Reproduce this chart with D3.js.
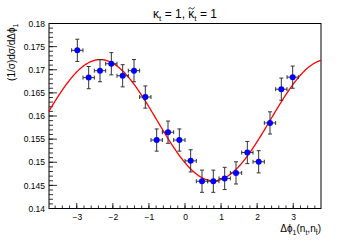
<!DOCTYPE html>
<html>
<head>
<meta charset="utf-8">
<script src="https://cdn.jsdelivr.net/npm/d3@7"></script>
<style>
  body { margin: 0; background: #fff; }
  svg { display: block; font-family: "Liberation Sans", Arial, sans-serif; }
</style>
</head>
<body>
<div id="chart"></div>
<script>
// bin centres of dphi, measured values and errors
var xValues = [-2.985, -2.670, -2.356, -2.042, -1.728, -1.414, -1.100, -0.785, -0.471, -0.157,
                0.157,  0.471,  0.785,  1.100,  1.414,  1.728,  2.042,  2.356,  2.670,  2.985];
var yValues = [0.1742, 0.1683, 0.1698, 0.1713, 0.1687, 0.1698, 0.1641, 0.1548, 0.1565, 0.1548,
               0.1503, 0.1459, 0.1459, 0.1465, 0.1477, 0.1521, 0.1501, 0.1585, 0.1658, 0.1684];
var yErrors = [0.0024, 0.0024, 0.0024, 0.0024, 0.0024, 0.0024, 0.0024, 0.0024, 0.0024, 0.0024,
               0.0024, 0.0024, 0.0024, 0.0024, 0.0024, 0.0024, 0.0024, 0.0024, 0.0024, 0.0024];
var xHalfWidth = 0.157;

// fit: p0 + p1*cos(x + p2)
var fitParams = [0.1591, 0.0131, 2.35];

var xTicks = [-3, -2, -1, 0, 1, 2, 3];
var yTicks = [0.14, 0.145, 0.15, 0.155, 0.16, 0.165, 0.17, 0.175, 0.18];

var margin = { top: 23.5, right: 34, bottom: 31.5, left: 49 };
var W = 355, H = 240;
var width  = W - margin.left - margin.right;
var height = H - margin.top - margin.bottom;

var svg = d3.select("#chart").append("svg")
    .attr("width", W)
    .attr("height", H);

var g = svg.append("g")
    .attr("transform", "translate(" + margin.left + "," + margin.top + ")");

var xScale = d3.scaleLinear().domain([-1.2 * Math.PI, 1.2 * Math.PI]).range([0, width]);
var yScale = d3.scaleLinear().domain([0.14, 0.18]).range([height, 0]);

// ticks inside the frame, ROOT style
var xMinor = d3.range(-3.6, 3.61, 0.2).map(function(d) { return Math.round(d * 10) / 10; });
var yMinor = d3.range(0.14, 0.18001, 0.001);

g.selectAll(".xminor").data(xMinor).enter().append("line")
    .attr("x1", d => xScale(d)).attr("x2", d => xScale(d))
    .attr("y1", height).attr("y2", height - 3)
    .attr("stroke", "#000").attr("stroke-width", 0.8);
g.selectAll(".xmajor").data(xTicks).enter().append("line")
    .attr("x1", d => xScale(d)).attr("x2", d => xScale(d))
    .attr("y1", height).attr("y2", height - 5.5)
    .attr("stroke", "#000").attr("stroke-width", 0.8);
g.selectAll(".yminor").data(yMinor).enter().append("line")
    .attr("x1", 0).attr("x2", 4)
    .attr("y1", d => yScale(d)).attr("y2", d => yScale(d))
    .attr("stroke", "#000").attr("stroke-width", 0.8);
g.selectAll(".ymajor").data(yTicks).enter().append("line")
    .attr("x1", 0).attr("x2", 8)
    .attr("y1", d => yScale(d)).attr("y2", d => yScale(d))
    .attr("stroke", "#000").attr("stroke-width", 0.8);

// tick labels
var xAxis = d3.axisBottom(xScale).tickValues(xTicks).tickSize(0).tickPadding(5)
    .tickFormat(d => d < 0 ? "\u2212" + Math.abs(d) : d);
g.append("g")
    .attr("transform", "translate(0," + height + ")")
    .call(xAxis)
    .call(s => s.select(".domain").remove())
    .selectAll("text").attr("font-size", "8.5px").attr("fill", "#000")
    .attr("font-family", "Liberation Sans, Arial, sans-serif");

var yAxis = d3.axisLeft(yScale).tickValues(yTicks).tickSize(0).tickPadding(4)
    .tickFormat(d3.format("~g"));
g.append("g")
    .call(yAxis)
    .call(s => s.select(".domain").remove())
    .selectAll("text").attr("font-size", "8.5px").attr("fill", "#000")
    .attr("font-family", "Liberation Sans, Arial, sans-serif");

// frame
g.append("rect")
    .attr("width", width).attr("height", height)
    .attr("fill", "none").attr("stroke", "#000").attr("stroke-width", 1);

// fit curve
var curveX = d3.range(-1.2 * Math.PI, 1.2 * Math.PI + 0.001, 0.02);
var line = d3.line()
    .x(d => xScale(d))
    .y(d => yScale(fitParams[0] + fitParams[1] * Math.cos(d + fitParams[2])));
g.append("path")
    .datum(curveX)
    .attr("d", line)
    .attr("fill", "none")
    .attr("stroke", "#ff0000")
    .attr("stroke-width", 1.3);

// error bars
var pts = xValues.map(function(x, i) { return { x: x, y: yValues[i], e: yErrors[i] }; });
var eb = g.selectAll(".err").data(pts).enter().append("g").attr("class", "err")
    .attr("stroke", "#333").attr("stroke-width", 1);
eb.append("line")
    .attr("x1", d => xScale(d.x)).attr("x2", d => xScale(d.x))
    .attr("y1", d => yScale(d.y - d.e)).attr("y2", d => yScale(d.y + d.e));
eb.append("line")
    .attr("x1", d => xScale(d.x - xHalfWidth)).attr("x2", d => xScale(d.x + xHalfWidth))
    .attr("y1", d => yScale(d.y)).attr("y2", d => yScale(d.y));
// end caps
eb.append("line")
    .attr("x1", d => xScale(d.x) - 2).attr("x2", d => xScale(d.x) + 2)
    .attr("y1", d => yScale(d.y + d.e)).attr("y2", d => yScale(d.y + d.e));
eb.append("line")
    .attr("x1", d => xScale(d.x) - 2).attr("x2", d => xScale(d.x) + 2)
    .attr("y1", d => yScale(d.y - d.e)).attr("y2", d => yScale(d.y - d.e));
eb.append("line")
    .attr("x1", d => xScale(d.x - xHalfWidth)).attr("x2", d => xScale(d.x - xHalfWidth))
    .attr("y1", d => yScale(d.y) - 2).attr("y2", d => yScale(d.y) + 2);
eb.append("line")
    .attr("x1", d => xScale(d.x + xHalfWidth)).attr("x2", d => xScale(d.x + xHalfWidth))
    .attr("y1", d => yScale(d.y) - 2).attr("y2", d => yScale(d.y) + 2);

// markers
g.selectAll(".pt").data(pts).enter().append("circle")
    .attr("cx", d => xScale(d.x))
    .attr("cy", d => yScale(d.y))
    .attr("r", 3)
    .attr("fill", "#0000ff");

// title (tilde drawn as a small path over the second kappa)
var title = svg.append("text")
    .attr("x", 185).attr("y", 18)
    .attr("text-anchor", "middle")
    .attr("font-size", "12px");
title.append("tspan").text("\u03ba");
title.append("tspan").attr("font-size", "8px").attr("dy", 3).text("t");
title.append("tspan").attr("dy", -3).text(" = 1, ");
var kap2 = title.append("tspan").text("\u03ba");
title.append("tspan").attr("font-size", "8px").attr("dy", 3).text("t");
title.append("tspan").attr("dy", -3).text(" = 1");

var kb = kap2.node().getExtentOfChar(0);
var cx = kb.x + kb.width / 2, ty = 8.2;
svg.append("path")
    .attr("d", "M" + (cx - 3) + "," + (ty + 1) +
               " C" + (cx - 1.5) + "," + (ty - 1.5) + " " + (cx) + "," + (ty + 0.2) + " " + (cx + 0.2) + "," + (ty + 0.4) +
               " S" + (cx + 1.8) + "," + (ty + 1.8) + " " + (cx + 3) + "," + (ty - 0.8))
    .attr("fill", "none")
    .attr("stroke", "#000")
    .attr("stroke-width", 0.9);

// x-axis title
var xt = svg.append("text")
    .attr("x", margin.left + width).attr("y", 232)
    .attr("text-anchor", "end")
    .attr("font-size", "10px");
xt.append("tspan").text("\u0394\u03d5");
xt.append("tspan").attr("font-size", "7px").attr("dy", 2.5).text("1");
xt.append("tspan").attr("dy", -2.5).text("(n");
xt.append("tspan").attr("font-size", "7px").attr("dy", 2.5).text("t");
xt.append("tspan").attr("dy", -2.5).text(",n");
var tbar = xt.append("tspan").attr("font-size", "7px").attr("dy", 2.5).text("t");
xt.append("tspan").attr("dy", -2.5).text(")");

var tb = tbar.node().getExtentOfChar(0);
svg.append("line")
    .attr("x1", tb.x + 0.3).attr("x2", tb.x + tb.width - 0.3)
    .attr("y1", tb.y + 0.8).attr("y2", tb.y + 0.8)
    .attr("stroke", "#000").attr("stroke-width", 0.7);

// y-axis title
var yt = svg.append("text")
    .attr("transform", "translate(15," + margin.top + ") rotate(-90)")
    .attr("text-anchor", "end")
    .attr("font-size", "10px");
yt.append("tspan").text("(1/\u03c3)d\u03c3/d\u0394\u03d5");
yt.append("tspan").attr("font-size", "7px").attr("dy", 2.5).text("1");
</script>
</body>
</html>
